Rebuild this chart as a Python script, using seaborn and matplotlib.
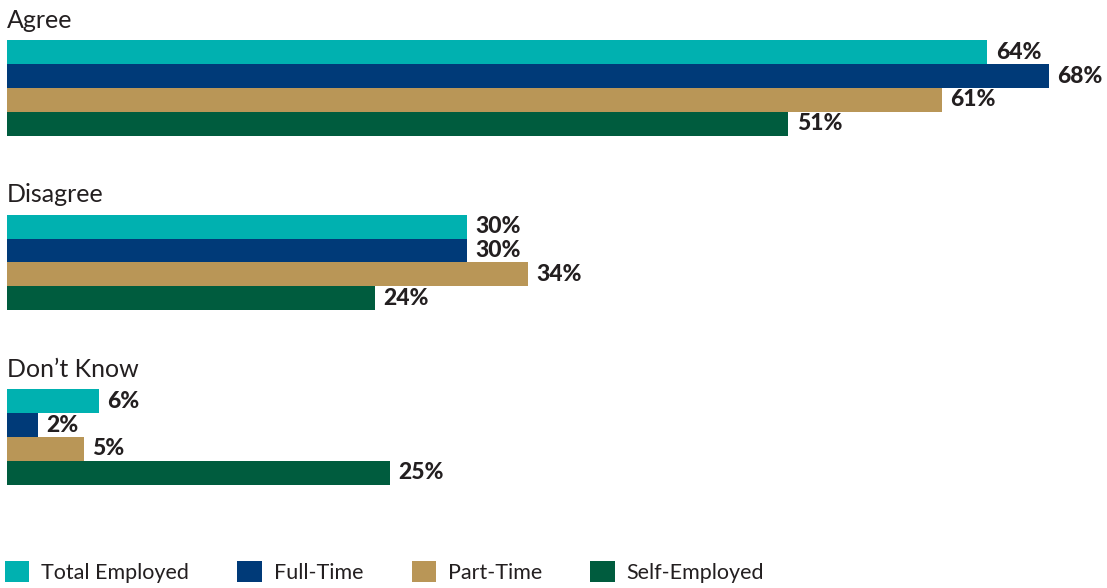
import matplotlib
matplotlib.use("Agg")
import matplotlib.pyplot as plt
import seaborn as sns
import pandas as pd
from matplotlib.patches import Patch

categories = ["Agree", "Disagree", "Don\u2019t Know"]
series = ["Total Employed", "Full-Time", "Part-Time", "Self-Employed"]
total_employed = [64, 30, 6]
full_time = [68, 30, 2]
part_time = [61, 34, 5]
self_employed = [51, 24, 25]
colors = ["#00B1B0", "#003A78", "#B99657", "#005C3E"]

sns.set_style("white")
plt.rcParams['font.family'] = ['Lato', 'DejaVu Sans']

rows = []
for s, vals in zip(series, [total_employed, full_time, part_time, self_employed]):
    for c, v in zip(categories, vals):
        rows.append({"category": c, "series": s, "value": v})
df = pd.DataFrame(rows)

W, H = 1107, 588
fig = plt.figure(figsize=(W / 100, H / 100), dpi=100)
ax = fig.add_axes([7 / W, 0, 1100 / W, 1])

sns.barplot(data=df, y="category", x="value", hue="series", order=categories,
            hue_order=series, palette=colors, orient="h", width=0.55,
            saturation=1, legend=False, linewidth=0, edgecolor="none", ax=ax)

px = 1 / 174.5
ax.set_ylim((H - 88) * px, -88 * px)
ax.set_xlim(0, 1100 / 15.32)

for cont in ax.containers:
    ax.bar_label(cont, labels=[f"{int(v)}%" for v in cont.datavalues], padding=6,
                 fontsize=16.5, fontweight="black", color="#231F20")

for i, c in enumerate(categories):
    ax.annotate(c, xy=(0, i - 0.275), xycoords="data", xytext=(0, 9),
                textcoords="offset points", ha="left", va="baseline",
                fontsize=18, color="#231F20")

ax.set_axis_off()

handles = [Patch(facecolor=col, edgecolor="none") for col in colors]
fig.legend(handles, series, loc="lower left", bbox_to_anchor=(5 / W, 5 / H),
           ncol=4, frameon=False, fontsize=15.5, handlelength=1.12, handleheight=1.12,
           handletextpad=0.56, columnspacing=2.25, borderpad=0, borderaxespad=0,
           labelcolor="#231F20")

fig.savefig("out.png", dpi=100)
